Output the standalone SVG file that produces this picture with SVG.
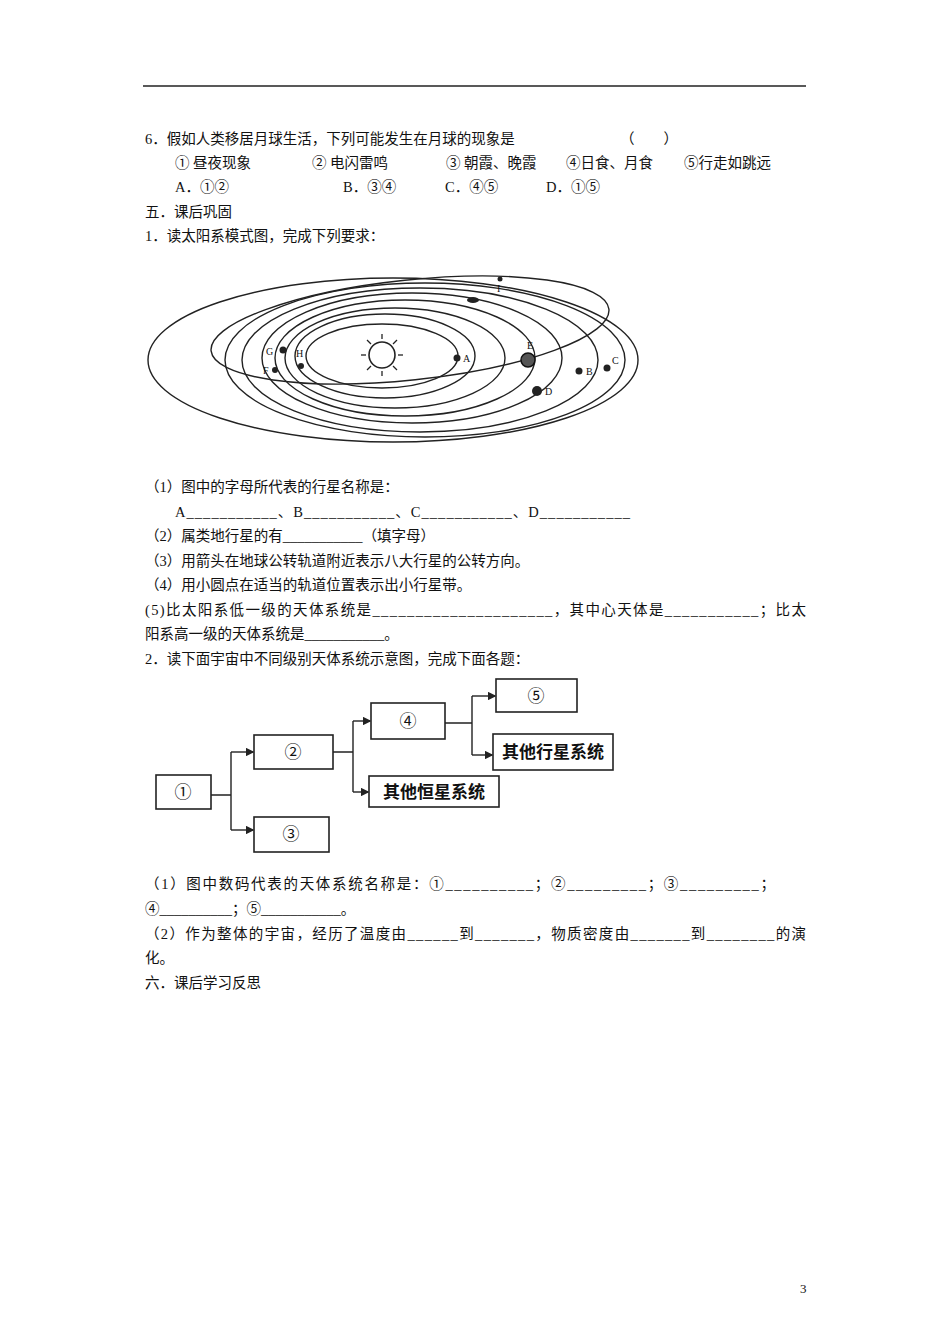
<svg xmlns="http://www.w3.org/2000/svg" width="950" height="1344" viewBox="0 0 950 1344">
<style>
text{font-family:"Liberation Serif","Noto Sans CJK SC",serif;font-size:14.5px;fill:#111}
.o{fill:none;stroke:#222;stroke-width:1.4}
.b{fill:#fff;stroke:#222;stroke-width:1.6}
.c{fill:none;stroke:#222;stroke-width:1.4}
.p{fill:#222}
.l{font-size:10px;font-family:"Liberation Serif",serif}
.bt{font-size:17px;font-weight:bold;text-anchor:middle}
.bn{font-size:17px;text-anchor:middle}
</style>
<defs><marker id="ar" markerWidth="6" markerHeight="6" refX="5" refY="3" orient="auto"><path d="M0,0L6,3L0,6z" fill="#222"/></marker></defs>
<rect width="950" height="1344" fill="#fff"/>
<line x1="143" y1="86" x2="806" y2="86" stroke="#222" stroke-width="1.3"/>
<g id="text">
<text x="145" y="144">6．假如人类移居月球生活，下列可能发生在月球的现象是</text>
<text x="620" y="144">（　　）</text>
<text x="175" y="168">① 昼夜现象</text><text x="312" y="168">② 电闪雷鸣</text><text x="446" y="168">③ 朝霞、晚霞</text><text x="566" y="168">④日食、月食</text><text x="684" y="168">⑤行走如跳远</text>
<text x="175" y="192">A．①②</text><text x="343" y="192">B．③④</text><text x="445" y="192">C．④⑤</text><text x="546" y="192">D．①⑤</text>
<text x="145" y="217">五．课后巩固</text>
<text x="145" y="241">1．读太阳系模式图，完成下列要求：</text>
<text x="145" y="492">（1）图中的字母所代表的行星名称是：</text>
<text x="175" y="517" textLength="455">A___________、B___________、C___________、D___________</text>
<text x="145" y="541">（2）属类地行星的有___________（填字母）</text>
<text x="145" y="566">（3）用箭头在地球公转轨道附近表示八大行星的公转方向。</text>
<text x="145" y="590">（4）用小圆点在适当的轨道位置表示出小行星带。</text>
<text x="145" y="615" textLength="661">(5)比太阳系低一级的天体系统是_____________________，其中心天体是___________；比太</text>
<text x="145" y="639">阳系高一级的天体系统是___________。</text>
<text x="145" y="664">2．读下面宇宙中不同级别天体系统示意图，完成下面各题：</text>
<text x="145" y="889" textLength="630">（1）图中数码代表的天体系统名称是：①__________；②_________；③_________；</text>
<text x="145" y="914">④__________；⑤___________。</text>
<text x="145" y="939" textLength="661">（2）作为整体的宇宙，经历了温度由______到_______，物质密度由_______到________的演</text>
<text x="145" y="963">化。</text>
<text x="145" y="988">六．课后学习反思</text>
<text x="800" y="1293" style="font-size:13px">3</text>
</g>
<g id="solar">
<ellipse class="o" cx="382" cy="356" rx="76" ry="32"/>
<ellipse class="o" cx="385" cy="356" rx="90" ry="42"/>
<ellipse class="o" cx="395" cy="358" rx="110" ry="50"/>
<ellipse class="o" cx="405" cy="358" rx="130" ry="58"/>
<ellipse class="o" cx="412" cy="358" rx="150" ry="65"/>
<ellipse class="o" cx="420" cy="360" rx="178" ry="72"/>
<ellipse class="o" cx="425" cy="360" rx="200" ry="77"/>
<ellipse class="o" cx="393" cy="360" rx="245" ry="82"/>
<ellipse class="o" cx="410" cy="330" rx="200" ry="50" transform="rotate(-6 410 330)"/>
<circle cx="382" cy="355" r="13" fill="#fff" stroke="#222" stroke-width="1.6"/>
<g stroke="#222" stroke-width="1.3">
<line x1="382" y1="339" x2="382" y2="334"/><line x1="382" y1="371" x2="382" y2="376"/>
<line x1="366" y1="355" x2="361" y2="355"/><line x1="398" y1="355" x2="403" y2="355"/>
<line x1="371" y1="344" x2="367" y2="340"/><line x1="393" y1="344" x2="397" y2="340"/>
<line x1="371" y1="366" x2="367" y2="370"/><line x1="393" y1="366" x2="397" y2="370"/>
</g>
<circle class="p" cx="457" cy="358" r="3.5"/><text class="l" x="463" y="362">A</text>
<circle cx="528" cy="360" r="7" fill="#555" stroke="#111" stroke-width="1.5"/><text class="l" x="527" y="349">E</text>
<circle class="p" cx="537" cy="391" r="5"/><text class="l" x="545" y="395">D</text>
<circle class="p" cx="579" cy="371" r="3.5"/><text class="l" x="586" y="375">B</text>
<circle class="p" cx="607" cy="368" r="3.5"/><text class="l" x="612" y="364">C</text>
<circle class="p" cx="283" cy="350" r="3.5"/><text class="l" x="266" y="355">G</text>
<circle class="p" cx="301" cy="366" r="3"/><text class="l" x="296" y="357">H</text>
<circle class="p" cx="275" cy="370" r="3"/><text class="l" x="263" y="374">F</text>
<circle class="p" cx="500" cy="279" r="2.5"/><text class="l" x="497" y="292">I</text>
<ellipse class="p" cx="473" cy="300" rx="6" ry="3"/>
</g>
<g id="n1"><rect class="b" x="156" y="775" width="55" height="34"/><text class="bn" x="183" y="798">①</text></g>
<g id="n2"><rect class="b" x="254" y="735" width="79" height="34"/><text class="bn" x="293" y="758">②</text></g>
<g id="n3"><rect class="b" x="254" y="817" width="75" height="35"/><text class="bn" x="291" y="840">③</text></g>
<g id="n4"><rect class="b" x="371" y="703" width="74" height="36"/><text class="bn" x="408" y="727">④</text></g>
<g id="n6"><rect class="b" x="369" y="776" width="130" height="31"/><text class="bt" x="434" y="798">其他恒星系统</text></g>
<g id="n5"><rect class="b" x="496" y="679" width="81" height="33"/><text class="bn" x="536" y="702">⑤</text></g>
<g id="n7"><rect class="b" x="493" y="734" width="120" height="36"/><text class="bt" x="553" y="758">其他行星系统</text></g>
<g id="connectors">
<path class="c" d="M211,795H231M231,752V830"/>
<path class="c" d="M231,752H253" marker-end="url(#ar)"/>
<path class="c" d="M231,830H253" marker-end="url(#ar)"/>
<path class="c" d="M333,752H353M353,721V792"/>
<path class="c" d="M353,721H370" marker-end="url(#ar)"/>
<path class="c" d="M353,792H368" marker-end="url(#ar)"/>
<path class="c" d="M445,723H472M472,696V755"/>
<path class="c" d="M472,696H495" marker-end="url(#ar)"/>
<path class="c" d="M472,755H492" marker-end="url(#ar)"/>
</g>
</svg>
